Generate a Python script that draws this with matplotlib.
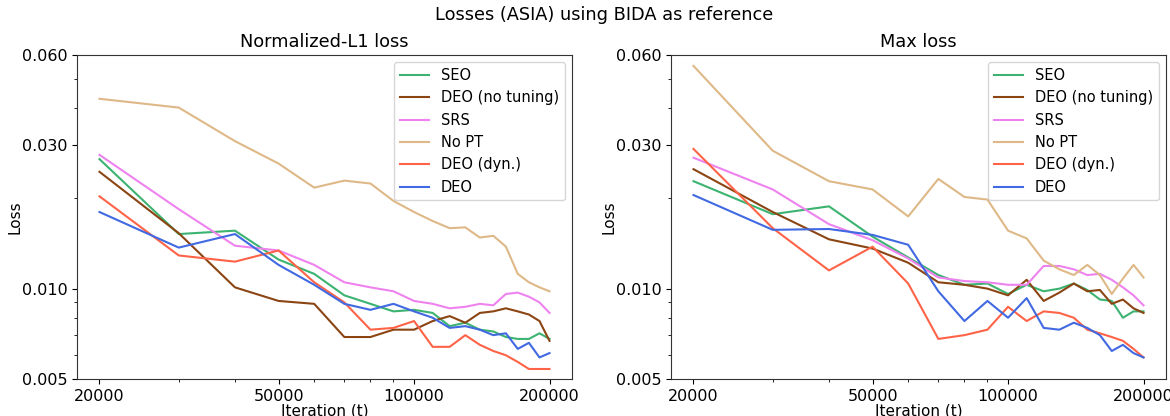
import numpy as np
import matplotlib
matplotlib.use('Agg')
import matplotlib.pyplot as plt
from matplotlib.ticker import FormatStrFormatter, NullFormatter

iters = [20000, 30000, 40000, 50000, 60000, 70000, 80000, 90000, 100000, 110000,
         120000, 130000, 140000, 150000, 160000, 170000, 180000, 190000, 200000]

labels = ['SEO', 'DEO (no tuning)', 'SRS', 'No PT', 'DEO (dyn.)', 'DEO']
colors = ['mediumseagreen', 'saddlebrown', 'violet', 'burlywood', 'tomato', 'royalblue']

# Normalized-L1 loss
l1_seo = [0.0270, 0.0152, 0.0156, 0.0125, 0.0112, 0.0095, 0.0089, 0.0084, 0.0085, 0.0083,
          0.0075, 0.0077, 0.0073, 0.0072, 0.0069, 0.0068, 0.0068, 0.0071, 0.0068]
l1_deo_nt = [0.0245, 0.0153, 0.0101, 0.0091, 0.0089, 0.0069, 0.0069, 0.0073, 0.0073, 0.0078,
             0.0081, 0.0077, 0.0083, 0.0084, 0.0086, 0.0084, 0.0082, 0.0078, 0.0067]
l1_srs = [0.0279, 0.0184, 0.0139, 0.0134, 0.0120, 0.0105, 0.0101, 0.0098, 0.0091, 0.0089,
          0.0086, 0.0087, 0.0089, 0.0088, 0.0096, 0.0097, 0.0094, 0.0090, 0.0083]
l1_nopt = [0.0429, 0.0401, 0.0310, 0.0261, 0.0217, 0.0229, 0.0224, 0.0196, 0.0180, 0.0168,
           0.0159, 0.0160, 0.0148, 0.0150, 0.0138, 0.0112, 0.0105, 0.0101, 0.0098]
l1_deo_dyn = [0.0203, 0.0129, 0.0123, 0.0134, 0.0105, 0.0090, 0.0073, 0.0074, 0.0078, 0.0064,
              0.0064, 0.0070, 0.0065, 0.0062, 0.0060, 0.0057, 0.0054, 0.0054, 0.0054]
l1_deo = [0.0180, 0.0137, 0.0152, 0.0120, 0.0103, 0.0089, 0.0085, 0.0089, 0.0084, 0.0080,
          0.0074, 0.0075, 0.0073, 0.0070, 0.0071, 0.0063, 0.0066, 0.0059, 0.0061]

# Max loss
mx_seo = [0.0228, 0.0177, 0.0188, 0.0149, 0.0127, 0.0111, 0.0103, 0.0104, 0.0096, 0.0103,
          0.0098, 0.0100, 0.0104, 0.0099, 0.0092, 0.0091, 0.0080, 0.0084, 0.0084]
mx_deo_nt = [0.0250, 0.0180, 0.0146, 0.0136, 0.0122, 0.0105, 0.0103, 0.0100, 0.0095, 0.0107,
             0.0091, 0.0097, 0.0104, 0.0098, 0.0099, 0.0089, 0.0092, 0.0086, 0.0083]
mx_srs = [0.0273, 0.0214, 0.0164, 0.0145, 0.0126, 0.0109, 0.0106, 0.0105, 0.0103, 0.0103,
          0.0119, 0.0119, 0.0116, 0.0111, 0.0112, 0.0107, 0.0101, 0.0095, 0.0088]
mx_nopt = [0.0552, 0.0288, 0.0228, 0.0214, 0.0174, 0.0232, 0.0202, 0.0198, 0.0156, 0.0147,
           0.0124, 0.0116, 0.0111, 0.0120, 0.0111, 0.0096, 0.0108, 0.0120, 0.0109]
mx_deo_dyn = [0.0292, 0.0159, 0.0115, 0.0138, 0.0104, 0.0068, 0.0070, 0.0073, 0.0087, 0.0078,
              0.0084, 0.0083, 0.0080, 0.0073, 0.0071, 0.0069, 0.0067, 0.0063, 0.0059]
mx_deo = [0.0205, 0.0157, 0.0158, 0.0151, 0.0140, 0.0098, 0.0078, 0.0091, 0.0080, 0.0093,
          0.0074, 0.0073, 0.0077, 0.0074, 0.0070, 0.0062, 0.0065, 0.0061, 0.0059]

l1_series = [l1_seo, l1_deo_nt, l1_srs, l1_nopt, l1_deo_dyn, l1_deo]
mx_series = [mx_seo, mx_deo_nt, mx_srs, mx_nopt, mx_deo_dyn, mx_deo]

plt.rcParams['font.size'] = 11
fig = plt.figure(figsize=(11.7, 4.16), dpi=100)
ax1 = fig.add_axes([0.0658, 0.0889, 0.4231, 0.7788])
ax2 = fig.add_axes([0.5735, 0.0889, 0.4231, 0.7788])

for ax, series, title in [(ax1, l1_series, 'Normalized-L1 loss'), (ax2, mx_series, 'Max loss')]:
    for y, lab, c in zip(series, labels, colors):
        ax.plot(iters, y, color=c, label=lab, lw=1.5)
    ax.set_xscale('log')
    ax.set_yscale('log')
    ax.set_ylim(0.005, 0.06)
    ax.set_xticks([20000, 50000, 100000, 200000])
    ax.set_yticks([0.005, 0.01, 0.03, 0.06])
    ax.xaxis.set_major_formatter(FormatStrFormatter('%d'))
    ax.yaxis.set_major_formatter(FormatStrFormatter('%.3f'))
    ax.xaxis.set_minor_formatter(NullFormatter())
    ax.yaxis.set_minor_formatter(NullFormatter())
    ax.tick_params(labelsize=11.5)
    for s in ax.spines.values():
        s.set_color('#333333')
    ax.set_title(title, fontsize=12.8)
    ax.set_xlabel('Iteration (t)', fontsize=11, labelpad=0)
    ax.set_ylabel('Loss', fontsize=11, labelpad=-1)
    ax.legend(loc='upper right', fontsize=10.5)

fig.suptitle('Losses (ASIA) using BIDA as reference', fontsize=12.8, x=0.516, y=0.985)
fig.savefig('out.png', dpi=100)
